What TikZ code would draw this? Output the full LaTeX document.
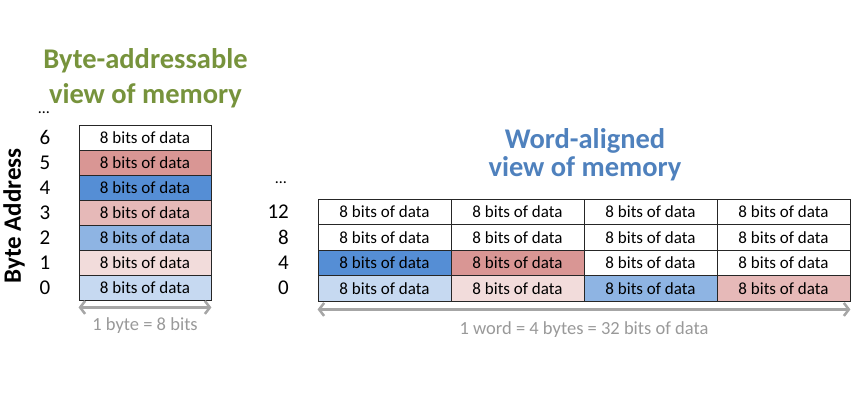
\documentclass[tikz,border=0pt]{standalone}
\usepackage{fontspec}
\setmainfont{Carlito}
\usetikzlibrary{arrows.meta}
\definecolor{blueA}{HTML}{558ED5}
\definecolor{blueB}{HTML}{8EB4E3}
\definecolor{blueC}{HTML}{C6D9F1}
\definecolor{redA}{HTML}{D99694}
\definecolor{redB}{HTML}{E6B9B8}
\definecolor{redC}{HTML}{F2DCDB}
\definecolor{titlegreen}{HTML}{77933C}
\definecolor{titleblue}{HTML}{4F81BD}
\definecolor{notegray}{HTML}{999999}
\definecolor{arrowgray}{HTML}{A6A6A6}

\begin{document}
\begin{tikzpicture}[x=1pt, y=-1pt,
    cell/.style={draw=black!85, line width=0.9pt, minimum height=25pt, inner sep=0pt,
                 font=\fontsize{17}{19}\selectfont},
    addr/.style={inner sep=0pt, font=\fontsize{21}{23}\selectfont},
    title/.style={align=center, inner sep=0pt},
    span/.style={draw=arrowgray, line width=2.5pt,
                 {Straight Barb[length=5pt,width=13pt]}-{Straight Barb[length=5pt,width=13pt]}},
    note/.style={text=notegray, inner sep=0pt, font=\fontsize{18.5}{20}\selectfont}]
  \useasboundingbox (0,0) rectangle (860,403);

  % byte-addressable view
  \node[title, text=titlegreen, font=\bfseries\fontsize{28.5}{35}\selectfont] (bytetitle) at (145.5,78)
    {Byte-addressable\\view of memory};
  \node[rotate=90, inner sep=0pt, font=\bfseries\fontsize{25}{30}\selectfont] (bytelabel) at (14,216) {Byte Address};
  \node[addr, font=\fontsize{16}{18}\selectfont] (bytedots) at (44,113) {\dots};
  \foreach \i/\c in {0/blueC, 1/redC, 2/blueB, 3/redB, 4/blueA, 5/redA, 6/white}{
    \node[cell, fill=\c, minimum width=132pt] (byte\i) at (145, 287.5-25*\i) {8 bits of data};
    \node[addr] (byteaddr\i) at (45, 287.5-25*\i) {\i};
  }
  \coordinate (bytel) at ([yshift=-7pt]byte0.south west);
  \coordinate (byter) at ([yshift=-7pt]byte0.south east);
  \draw[span] (bytel) -- (byter);
  \node[note] (bytenote) at (145,326) {1 byte = 8 bits};

  % word-aligned view
  \node[title, text=titleblue, font=\bfseries\fontsize{28.5}{28}\selectfont] (wordtitle) at (585,155)
    {Word-aligned\\view of memory};
  \node[addr, font=\fontsize{16}{18}\selectfont] (worddots) at (281,183) {\dots};
  \foreach \r/\a/\ca/\cb/\cc/\cd in {0/0/blueC/redC/blueB/redB, 1/4/blueA/redA/white/white,
                                     2/8/white/white/white/white, 3/12/white/white/white/white}{
    \node[addr, anchor=east] (wordaddr\r) at (289, 288.25-25.5*\r) {\a};
    \foreach \c [count=\j from 0] in {\ca,\cb,\cc,\cd}
      \node[cell, fill=\c, minimum width=133pt, minimum height=25.5pt] (word\r\j) at (384.5+133*\j, 288.25-25.5*\r) {8 bits of data};
  }
  \coordinate (wordl) at ([yshift=-8pt]word00.south west);
  \coordinate (wordr) at ([yshift=-8pt]word03.south east);
  \draw[span] (wordl) -- (wordr);
  \node[note] (wordnote) at (584,330) {1 word = 4 bytes = 32 bits of data};
\end{tikzpicture}
\end{document}
